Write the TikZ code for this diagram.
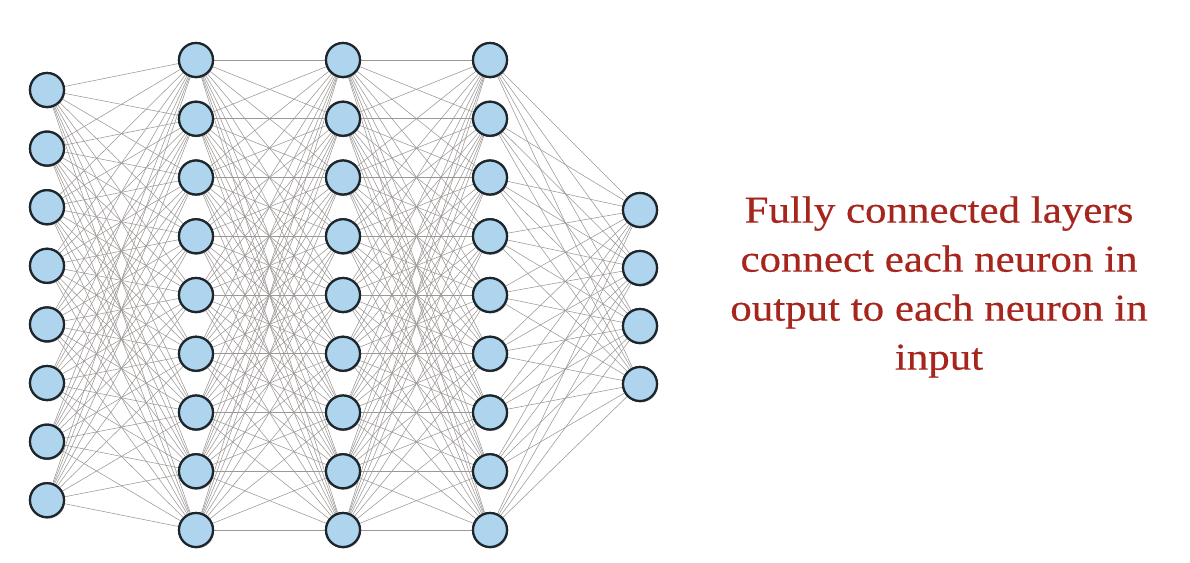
\documentclass[tikz,border=0pt]{standalone}
\usepackage{fontspec}
\setmainfont{Liberation Serif}[FakeStretch=1.13,FakeBold=0.4]
\usetikzlibrary{shadows}
\definecolor{nfill}{HTML}{AFD4EE}
\definecolor{nline}{HTML}{1C262C}
\definecolor{eline}{HTML}{9C9896}
\definecolor{txt}{HTML}{A6251C}
\begin{document}
\begin{tikzpicture}[x=1pt,y=-1pt,
  neuron/.style={circle,fill=nfill,draw=nline,line width=2.2pt,minimum size=34pt,inner sep=0pt,
    drop shadow={opacity=0.25,shadow xshift=1pt,shadow yshift=-1.5pt}},
  edge/.style={draw=eline,line width=0.55pt}]
\useasboundingbox (0,0) rectangle (1190,562);
\fill[white] (0,0) rectangle (1190,562);
% layer 1 (8 nodes)
\foreach \i in {1,...,8} {
  \node[neuron] (a\i) at (47,{90+(\i-1)*58.6}) {};
}
% layers 2-4 (9 nodes)
\foreach \i in {1,...,9} {
  \node[neuron] (b\i) at (196,{60+(\i-1)*58.75}) {};
  \node[neuron] (c\i) at (343,{60+(\i-1)*58.75}) {};
  \node[neuron] (d\i) at (490,{60+(\i-1)*58.75}) {};
}
% output (4 nodes)
\foreach \i in {1,...,4} {
  \node[neuron] (e\i) at (640,{210+(\i-1)*58}) {};
}
% edges
\foreach \i in {1,...,8} \foreach \j in {1,...,9} \draw[edge] (a\i) -- (b\j);
\foreach \i in {1,...,9} \foreach \j in {1,...,9} \draw[edge] (b\i) -- (c\j);
\foreach \i in {1,...,9} \foreach \j in {1,...,9} \draw[edge] (c\i) -- (d\j);
\foreach \i in {1,...,9} \foreach \j in {1,...,4} \draw[edge] (d\i) -- (e\j);
% redraw nodes on top of the edges
\foreach \i in {1,...,8} \node[neuron] at (a\i) {};
\foreach \i in {1,...,9} {\node[neuron] at (b\i) {}; \node[neuron] at (c\i) {}; \node[neuron] at (d\i) {};}
\foreach \i in {1,...,4} \node[neuron] at (e\i) {};
\node[text=txt,align=center,font=\fontsize{38}{49}\selectfont] (caption) at (939,287)
  {Fully connected layers\\connect each neuron in\\output to each neuron in\\input};
\end{tikzpicture}
\end{document}
